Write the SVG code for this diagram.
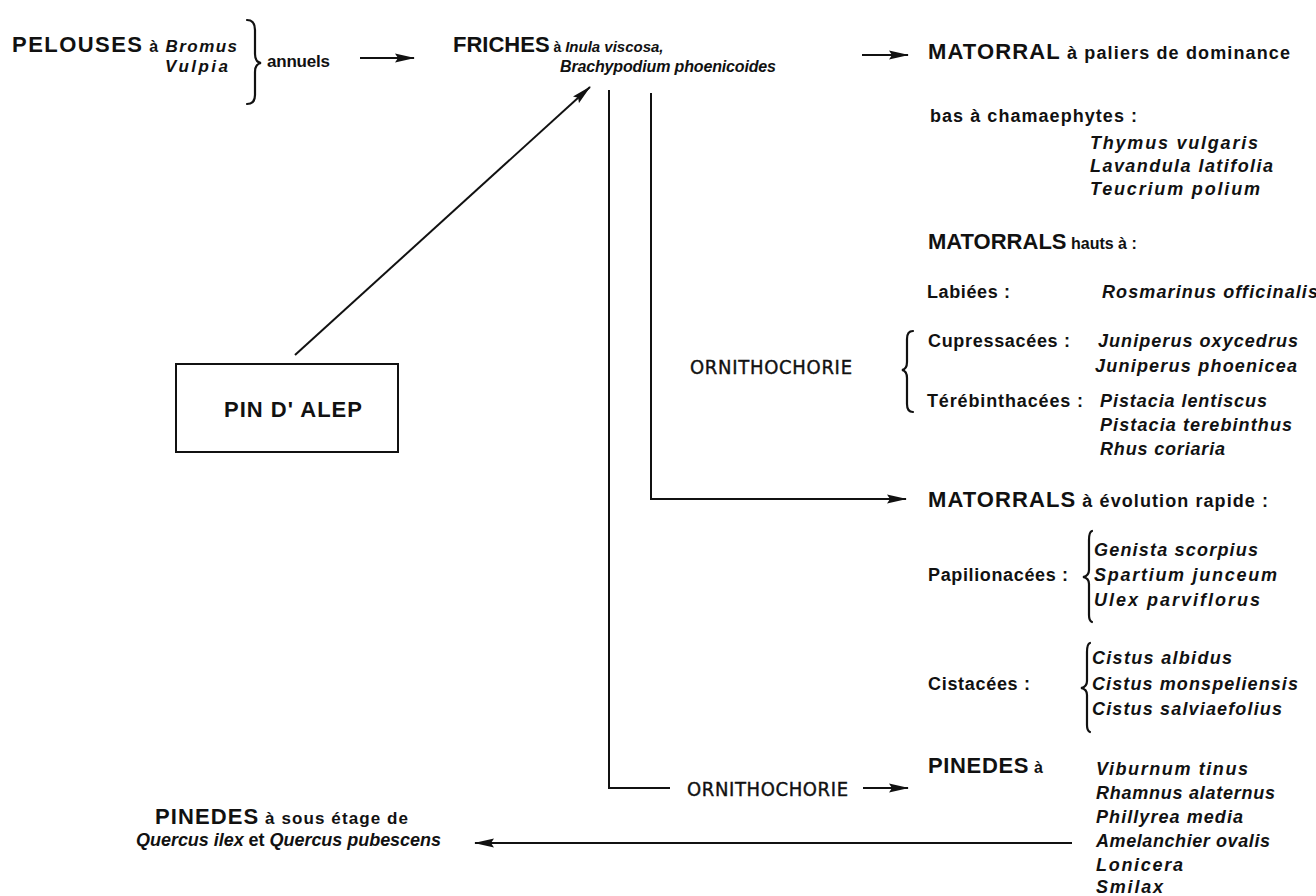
<svg xmlns="http://www.w3.org/2000/svg" width="1316" height="896" viewBox="0 0 1316 896">
<style>
text{font-family:"Liberation Sans",Arial,sans-serif;font-weight:700;fill:#111}
.big{font-size:22px}
.md{font-size:18px}
.sm{font-size:16px}
.sp{font-size:18px;font-style:italic}
.sps{font-size:16px;font-style:italic}
.orn{font-family:"DejaVu Sans Condensed","DejaVu Sans",sans-serif;font-weight:400;font-size:20px;font-stretch:condensed;stroke:#111;stroke-width:0.4}
.ln{stroke:#111;stroke-width:2;fill:none}
.br{stroke:#111;stroke-width:2.2;fill:none;stroke-linecap:round}
</style>
<defs>
<marker id="ah" markerUnits="userSpaceOnUse" viewBox="0 0 20 10" refX="19" refY="5" markerWidth="20" markerHeight="10" orient="auto">
<path d="M0,0.5 L20,5 L0,9.5 L3,5 z" fill="#111"/>
</marker>
</defs>
<rect width="1316" height="896" fill="#fff"/>

<g id="connectors">
<line class="ln" x1="360" y1="58" x2="414" y2="58" marker-end="url(#ah)"/>
<line class="ln" x1="295" y1="355" x2="590" y2="87" marker-end="url(#ah)"/>
<line class="ln" x1="862" y1="55" x2="908" y2="55" marker-end="url(#ah)"/>
<polyline class="ln" points="609,90 609,788 670,788"/>
<line class="ln" x1="863" y1="788" x2="908" y2="788" marker-end="url(#ah)"/>
<polyline class="ln" points="651,93 651,499 906,499" marker-end="url(#ah)"/>
<line class="ln" x1="1072" y1="843" x2="475" y2="843" marker-end="url(#ah)"/>
</g>

<g id="pelouses">
<text x="12" y="52" textLength="225"><tspan class="big">PELOUSES</tspan><tspan class="sm"> à </tspan><tspan class="sps" style="font-size:17px">Bromus</tspan></text>
<text class="sps" x="165" y="72" textLength="63" style="font-size:17px">Vulpia</text>
<path class="br" d="M247,20 Q255,20 255,30 L255,54 Q255,62 261,63 Q255,64 255,72 L255,95 Q255,104 247,104"/>
<text class="md" x="267" y="67" textLength="63" style="font-size:17px">annuels</text>
</g>

<g id="friches">
<text x="453" y="52"><tspan class="big">FRICHES</tspan><tspan class="sm" style="font-size:14px"> à </tspan><tspan class="sps" style="font-size:15px">Inula viscosa,</tspan></text>
<text class="sps" x="560" y="72" textLength="216">Brachypodium phoenicoides</text>
</g>

<g id="pin-alep">
<rect x="176" y="364" width="222" height="88" fill="none" stroke="#111" stroke-width="2"/>
<text class="big" x="224" y="417" textLength="138">PIN D' ALEP</text>
</g>

<g id="ornithochorie-1">
<text class="orn" x="690" y="374" textLength="162">ORNITHOCHORIE</text>
</g>
<g id="ornithochorie-2">
<text class="orn" x="687" y="796" textLength="161">ORNITHOCHORIE</text>
</g>

<g id="matorral">
<text x="928" y="59" textLength="362"><tspan class="big">MATORRAL</tspan><tspan class="md"> à paliers de dominance</tspan></text>
<text class="md" x="930" y="122" textLength="207">bas à chamaephytes :</text>
<text class="sp" x="1090" y="149" textLength="168">Thymus vulgaris</text>
<text class="sp" x="1090" y="172" textLength="183">Lavandula latifolia</text>
<text class="sp" x="1090" y="195" textLength="170">Teucrium polium</text>
</g>

<g id="matorrals-hauts">
<text x="928" y="249"><tspan class="big">MATORRALS</tspan><tspan class="sm"> hauts à :</tspan></text>
<text class="md" x="927" y="298" textLength="83">Labiées :</text>
<text class="sp" x="1102" y="298" textLength="216">Rosmarinus officinalis</text>
<path class="br" d="M913,331 Q907,331 907,339 L907,362 Q907,369 902,370 Q907,371 907,378 L907,404 Q907,412 913,412"/>
<text class="md" x="928" y="347" textLength="142">Cupressacées :</text>
<text class="sp" x="1098" y="347" textLength="200">Juniperus oxycedrus</text>
<text class="sp" x="1095" y="372" textLength="202">Juniperus phoenicea</text>
<text class="md" x="927" y="407" textLength="156">Térébinthacées :</text>
<text class="sp" x="1100" y="407" textLength="167">Pistacia lentiscus</text>
<text class="sp" x="1100" y="431" textLength="192">Pistacia terebinthus</text>
<text class="sp" x="1100" y="455" textLength="125">Rhus coriaria</text>
</g>

<g id="matorrals-rapide">
<text x="928" y="507" textLength="340"><tspan class="big">MATORRALS</tspan><tspan class="md"> à évolution rapide :</tspan></text>
<text class="md" x="928" y="581" textLength="140">Papilionacées :</text>
<path class="br" d="M1092,531 Q1089,532 1089,540 L1089,570 Q1089,576 1083,577 Q1089,578 1089,584 L1089,615 Q1089,621 1092,622"/>
<text class="sp" x="1094" y="556" textLength="164">Genista scorpius</text>
<text class="sp" x="1094" y="581" textLength="183">Spartium junceum</text>
<text class="sp" x="1094" y="606" textLength="166">Ulex parviflorus</text>
<text class="md" x="928" y="690" textLength="102">Cistacées :</text>
<path class="br" d="M1090,643 Q1087,644 1087,652 L1087,681 Q1087,687 1081,688 Q1087,689 1087,695 L1087,725 Q1087,731 1090,732"/>
<text class="sp" x="1092" y="664" textLength="140">Cistus albidus</text>
<text class="sp" x="1092" y="690" textLength="206">Cistus monspeliensis</text>
<text class="sp" x="1092" y="715" textLength="190">Cistus salviaefolius</text>
</g>

<g id="pinedes">
<text x="928" y="773" textLength="115"><tspan class="big">PINEDES</tspan><tspan class="sm"> à</tspan></text>
<text class="sp" x="1096" y="775" textLength="152">Viburnum tinus</text>
<text class="sp" x="1096" y="799" textLength="179">Rhamnus alaternus</text>
<text class="sp" x="1096" y="823" textLength="147">Phillyrea media</text>
<text class="sp" x="1096" y="847" textLength="174">Amelanchier ovalis</text>
<text class="sp" x="1096" y="871" textLength="87">Lonicera</text>
<text class="sp" x="1096" y="893" textLength="67">Smilax</text>
</g>

<g id="pinedes-quercus">
<text x="155" y="824" textLength="253"><tspan class="big">PINEDES</tspan><tspan class="sm" style="font-size:17px"> à sous étage de</tspan></text>
<text x="136" y="846" textLength="305"><tspan class="sp">Quercus ilex</tspan><tspan class="md"> et </tspan><tspan class="sp">Quercus pubescens</tspan></text>
</g>
</svg>
